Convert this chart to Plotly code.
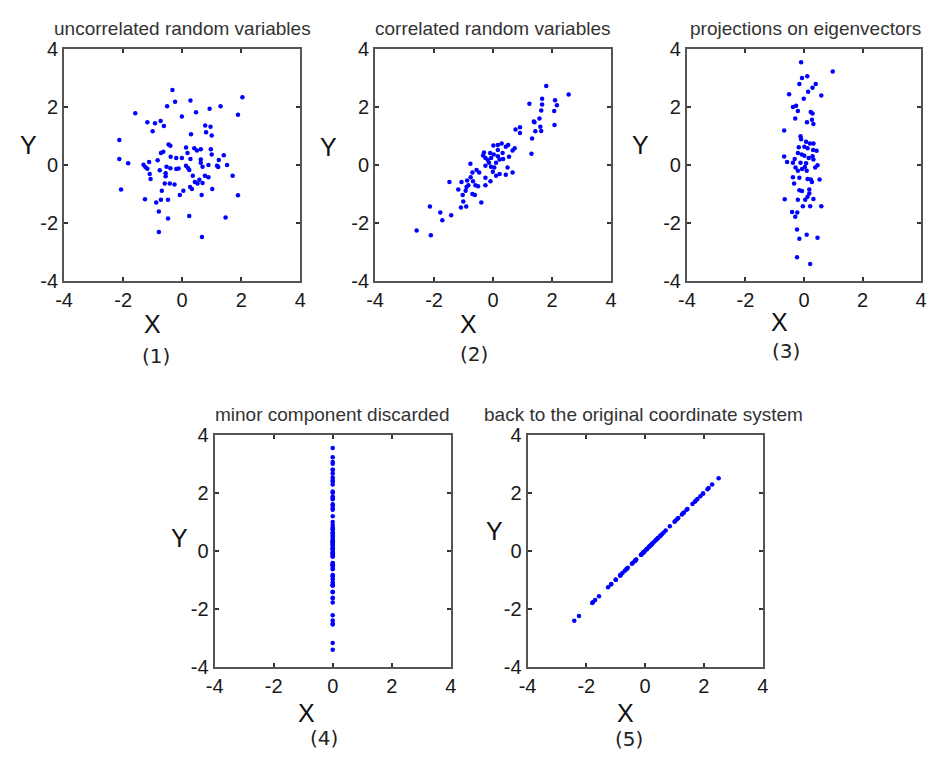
import plotly.graph_objects as go

W, H = 935, 775

# ---------------- data ----------------
p1_x = [-0.33, 2.04, 0.28, -0.24, -0.51, 1.30, 0.93, -1.59, 0.47, 1.89, -0.01, -1.18, -0.92, -0.73,
        -0.62, -1.00, 0.78, 0.96, 0.81, 1.00, 0.30, -2.13, -0.46, -0.40, 0.13, 0.41, 0.63, 0.97,
        -0.64, -0.72, 0.18, 0.50, 1.00, 1.41, -2.13, -1.83, -1.12, -0.39, -0.20, -0.01, 0.28, 0.63,
        1.24, 1.52, -1.31, -1.24, -1.18, -0.83, 0.13, 0.20, 0.69, 0.89, 1.18, 1.22, -0.76, -0.40,
        -0.20, 0.24, -0.56, -1.10, -1.07, -0.56, 0.77, 0.89, 1.71, 0.36, -0.59, -0.42, -0.26, 0.43,
        0.58, 0.69, 0.52, 0.27, 0.33, 1.02, 0.04, -0.69, -0.08, 0.66, 1.89, -2.07, -1.26, -0.72,
        -0.48, -0.88, -0.79, 0.24, -0.48, 1.47, -0.79, 0.67, -0.53, -0.12, 0.63]
p1_y = [2.58, 2.33, 2.22, 2.18, 2.02, 2.02, 1.94, 1.78, 1.82, 1.73, 1.67, 1.47, 1.44, 1.52,
        1.34, 1.16, 1.36, 1.32, 1.13, 1.02, 1.06, 0.86, 0.71, 0.66, 0.60, 0.58, 0.54, 0.54,
        0.46, 0.41, 0.41, 0.50, 0.36, 0.34, 0.21, 0.06, 0.10, 0.28, 0.24, 0.24, 0.21, 0.19,
        0.17, 0.00, 0.01, -0.08, -0.13, 0.16, -0.03, -0.10, -0.06, 0.00, -0.03, -0.07, -0.18, -0.11,
        -0.14, -0.17, -0.28, -0.31, -0.48, -0.39, -0.37, -0.42, -0.37, -0.37, -0.64, -0.64, -0.67, -0.59,
        -0.51, -0.62, -0.64, -0.76, -0.83, -0.83, -0.89, -0.89, -1.03, -1.03, -1.04, -0.84, -1.18, -1.20,
        -1.20, -1.29, -1.60, -1.76, -1.84, -1.81, -2.31, -2.48, -0.06, -0.12, 0.08]

p2_x = [1.80, 2.56, 1.23, 1.66, 1.66, 2.10, 2.16, 2.07, 1.63, 1.57, 1.38, 1.40, 2.08, 1.60,
        1.63, 1.43, 0.91, 0.76, 0.91, 1.32, 1.30, 0.29, 0.16, 0.01, 0.43, 0.51, 0.16, 0.73,
        0.66, -0.31, -0.10, 0.32, 0.54, -0.26, -0.07, 0.16, 0.34, 0.22, -0.34, -0.14, 0.10, -0.07,
        -0.77, -0.26, 0.04, -0.56, -0.47, -0.70, -0.01, 0.66, 0.22, 0.43, 0.10, -0.76, -0.26, -0.88,
        -1.48, -1.07, -0.68, -0.09, -0.26, -0.90, -0.60, -0.51, -1.18, -0.93, -0.70, -1.03, -0.62, -1.01,
        -0.40, -1.09, -0.91, -2.14, -1.79, -1.42, -1.72, -2.59, -2.11, -0.18, 0.02, 0.49, -0.84]
p2_y = [2.72, 2.43, 2.11, 2.28, 2.08, 2.23, 2.06, 1.86, 1.88, 1.60, 1.50, 1.47, 1.38, 1.32,
        1.17, 1.16, 1.30, 1.22, 1.10, 0.91, 0.39, 0.74, 0.69, 0.67, 0.63, 0.69, 0.52, 0.58,
        0.50, 0.43, 0.41, 0.41, 0.28, 0.24, 0.24, 0.30, 0.21, 0.19, 0.33, 0.08, 0.08, -0.06,
        0.04, -0.03, -0.09, -0.17, -0.26, -0.26, -0.23, -0.26, -0.31, -0.34, -0.37, -0.42, -0.44, -0.53,
        -0.59, -0.59, -0.56, -0.56, -0.70, -0.76, -0.70, -0.73, -0.84, -0.89, -1.00, -1.03, -1.03, -1.26,
        -1.29, -1.46, -1.43, -1.43, -1.64, -1.73, -1.90, -2.26, -2.42, 0.17, 0.36, -0.09, -0.70]

p3_x = [-0.10, 0.98, 0.11, -0.07, -0.16, 0.40, 0.29, 0.14, -0.51, 0.59, -0.01, -0.27, -0.38, -0.21,
        0.23, 0.29, -0.30, 0.27, 0.10, 0.32, -0.68, -0.12, -0.10, 0.07, 0.20, 0.32, -0.18, 0.01,
        0.12, 0.31, 0.43, -0.21, -0.08, 0.01, 0.16, 0.32, -0.68, -0.32, 0.29, -0.58, -0.38, -0.12,
        0.07, 0.46, 0.38, -0.29, -0.07, -0.21, 0.09, 0.03, -0.38, -0.16, 0.12, 0.23, 0.53, -0.34,
        0.27, -0.16, -0.07, 0.18, 0.18, 0.12, -0.66, -0.21, 0.04, 0.32, -0.04, 0.21, 0.59, -0.41,
        -0.23, -0.30, -0.24, 0.09, -0.16, 0.46, -0.24, 0.21]
p3_y = [3.54, 3.22, 3.06, 3.00, 2.79, 2.79, 2.66, 2.52, 2.44, 2.39, 2.28, 2.04, 2.00, 1.86,
        1.83, 1.77, 1.60, 1.56, 1.47, 1.41, 1.19, 0.99, 0.89, 0.80, 0.74, 0.74, 0.61, 0.63,
        0.58, 0.52, 0.49, 0.41, 0.36, 0.32, 0.24, 0.19, 0.29, 0.21, 0.30, 0.10, 0.08, 0.08,
        0.06, -0.01, -0.09, -0.09, -0.14, -0.20, -0.20, -0.07, -0.42, -0.44, -0.48, -0.50, -0.50, -0.64,
        -0.59, -0.87, -0.90, -0.84, -0.98, -1.09, -1.18, -1.20, -1.20, -1.17, -1.42, -1.42, -1.42, -1.62,
        -1.64, -1.78, -2.22, -2.40, -2.54, -2.51, -3.18, -3.41]

p4_x = [0.0] * len(p3_y)
p4_y = [3.54, 3.22, 3.06, 3.00, 2.79, 2.79, 2.66, 2.52, 2.44, 2.39, 2.28, 2.04, 2.00, 1.86,
        1.83, 1.77, 1.60, 1.56, 1.47, 1.41, 1.19, 0.99, 0.89, 0.80, 0.74, 0.74, 0.61, 0.63,
        0.58, 0.52, 0.49, 0.41, 0.36, 0.32, 0.24, 0.19, 0.29, 0.21, 0.30, 0.10, 0.08, 0.08,
        0.06, -0.01, -0.09, -0.09, -0.14, -0.20, -0.20, -0.07, -0.42, -0.44, -0.48, -0.50, -0.50, -0.64,
        -0.59, -0.87, -0.90, -0.84, -0.98, -1.09, -1.18, -1.20, -1.20, -1.17, -1.42, -1.42, -1.42, -1.62,
        -1.64, -1.78, -2.22, -2.40, -2.54, -2.51, -3.18, -3.41]

p5_v = [2.50, 2.28, 2.16, 2.12, 1.97, 1.97, 1.88, 1.78, 1.73, 1.69, 1.61, 1.44, 1.41, 1.32,
        1.29, 1.25, 1.13, 1.10, 1.04, 1.00, 0.84, 0.70, 0.63, 0.57, 0.52, 0.52, 0.43, 0.45,
        0.41, 0.37, 0.35, 0.29, 0.25, 0.23, 0.17, 0.13, 0.21, 0.15, 0.21, 0.07, 0.06, 0.06,
        0.04, -0.01, -0.06, -0.06, -0.10, -0.14, -0.14, -0.05, -0.30, -0.31, -0.34, -0.35, -0.35, -0.45,
        -0.42, -0.62, -0.64, -0.59, -0.69, -0.77, -0.83, -0.85, -0.85, -0.83, -1.00, -1.00, -1.00, -1.15,
        -1.16, -1.26, -1.57, -1.70, -1.80, -1.77, -2.25, -2.41]
p5_x = p5_v
p5_y = p5_v

titles = ["uncorrelated random variables", "correlated random variables",
          "projections on eigenvectors", "minor component discarded",
          "back to the original coordinate system"]
captions = ["(1)", "(2)", "(3)", "(4)", "(5)"]
tick_vals = [-4, -2, 0, 2, 4]
tick_text = ["-4", "-2", "0", "2", "4"]

series = [(p1_x, p1_y), (p2_x, p2_y), (p3_x, p3_y), (p4_x, p4_y), (p5_x, p5_y)]

# ---------------- layout (pixel boxes) ----------------
boxes = [(56, 39, 296, 278), (372, 39, 612, 278), (689, 39, 927, 278),
         (209, 436, 449, 675), (527, 436, 766, 675)]
title_pos = [(176, 18), (492, 18), (809, 18), (328, 415), (645, 415)]
xlab_pos = [(146, 322), (467, 322), (783, 320), (302, 723), (627, 722)]
ylab_pos = [(20, 138), (325, 140), (642, 138), (173, 542), (493, 535)]
cap_pos = [(149, 355), (473, 353), (790, 350), (320, 748), (630, 749)]


def px(x):
    return x / W


def py(y):
    return 1 - y / H


fig = go.Figure()
annotations = []
for i, ((xs, ys), (l, t, r, b)) in enumerate(zip(series, boxes)):
    n = i + 1
    xa = "x" if n == 1 else f"x{n}"
    ya = "y" if n == 1 else f"y{n}"
    fig.add_trace(go.Scatter(x=xs, y=ys, mode="markers", xaxis=xa, yaxis=ya,
                             marker=dict(color="#0000ff", size=4.5, line=dict(width=0)),
                             showlegend=False, hoverinfo="skip"))
    axis_common = dict(range=[-4, 4], tickvals=tick_vals, ticktext=tick_text,
                       showgrid=False, zeroline=False, showline=True, mirror="ticks",
                       linecolor="#555555", linewidth=2, ticks="inside", ticklen=4,
                       tickwidth=2, tickcolor="#333333", fixedrange=True,
                       tickfont=dict(family="Liberation Sans, Arial", size=20, color="#1a1a1a"))
    fig.layout[f"xaxis{'' if n == 1 else n}"] = dict(domain=[px(l), px(r)], anchor=ya, **axis_common)
    fig.layout[f"yaxis{'' if n == 1 else n}"] = dict(domain=[py(b), py(t)], anchor=xa, **axis_common)

    annotations.append(dict(text=titles[i], x=px(title_pos[i][0]), y=py(title_pos[i][1]),
                            xref="paper", yref="paper", showarrow=False, xanchor="center", yanchor="middle",
                            font=dict(family="Liberation Sans, Arial", size=19, color="#333333")))
    annotations.append(dict(text="X", x=px(xlab_pos[i][0]), y=py(xlab_pos[i][1]),
                            xref="paper", yref="paper", showarrow=False, xanchor="center", yanchor="middle",
                            borderpad=0,
                            font=dict(family="Liberation Sans, Arial", size=25, color="#111111")))
    annotations.append(dict(text="Y", x=px(ylab_pos[i][0]), y=py(ylab_pos[i][1]),
                            xref="paper", yref="paper", showarrow=False, xanchor="center", yanchor="middle",
                            font=dict(family="Liberation Sans, Arial", size=25, color="#111111")))
    annotations.append(dict(text=captions[i], x=px(cap_pos[i][0]), y=py(cap_pos[i][1]),
                            xref="paper", yref="paper", showarrow=False, xanchor="center", yanchor="middle",
                            borderpad=0,
                            font=dict(family="DejaVu Sans", size=20, color="#222222")))

fig.update_layout(width=W, height=H, margin=dict(l=0, r=0, t=0, b=0),
                  paper_bgcolor="white", plot_bgcolor="white", annotations=annotations)

fig.write_html("out.html", config={"displayModeBar": False})
